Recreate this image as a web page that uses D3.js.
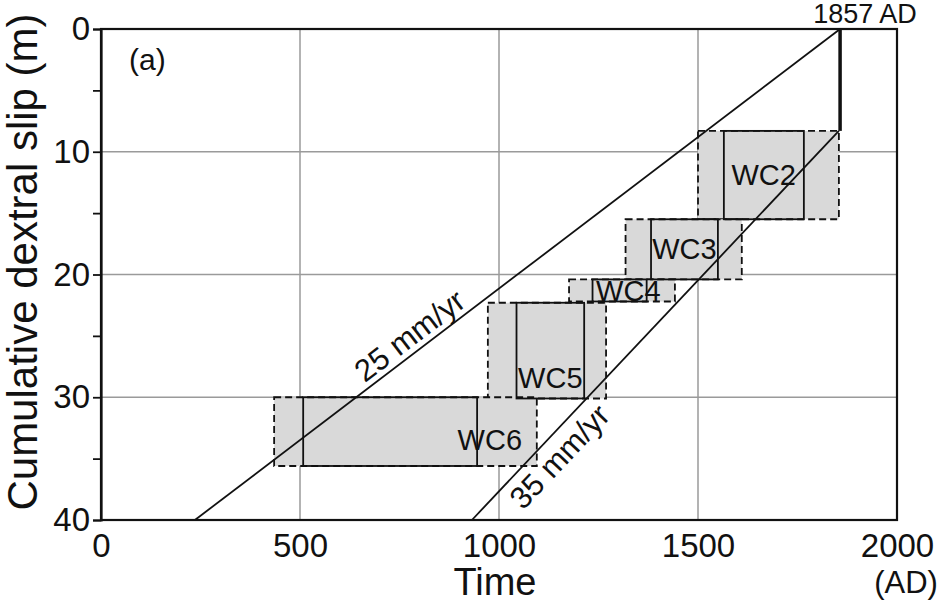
<!DOCTYPE html>
<html>
<head>
<meta charset="utf-8">
<script src="https://cdn.jsdelivr.net/npm/d3@7"></script>
<style>
  html, body { margin: 0; padding: 0; background: #fff; }
  svg { display: block; font-family: "Liberation Sans", Arial, sans-serif; }
</style>
</head>
<body>
<svg id="chart" width="945" height="603"></svg>
<script>
// ---- Data ----
const events        = ["WC2", "WC3", "WC4", "WC5", "WC6"];
const outerStart    = [1500, 1318, 1176, 972, 435];   // time (AD), dashed range
const outerEnd      = [1854, 1610, 1442, 1269, 1095];
const innerStart    = [1565, 1382, 1235, 1044, 508];  // time (AD), solid range
const innerEnd      = [1766, 1550, 1371, 1214, 945];
const slipTop       = [8.3, 15.5, 20.4, 22.3, 30.0];  // cumulative slip (m)
const slipBottom    = [15.5, 20.4, 22.2, 30.1, 35.6];
const labelTime     = [1665, 1466, 1325, 1129, 977];
const labelSlip     = [11.9, 17.9, 21.35, 28.4, 33.5];

const rateLabels    = ["25 mm/yr", "35 mm/yr"];
const rateStartTime = [1857, 1854];
const rateStartSlip = [0, 8.3];
const rateEndTime   = [236, 932];
const rateEndSlip   = [40, 40];
const rateLabelTime = [801, 1115];

const lastEventYear = 1857;
const lastEventSlip = 8.3;

const xTicks = [0, 500, 1000, 1500, 2000];
const yTicks = [0, 5, 10, 15, 20, 25, 30, 35, 40];
const gridX  = [500, 1000, 1500];
const gridY  = [10, 20, 30];

// ---- Chart ----
const svg = d3.select("#chart");
const x = d3.scaleLinear().domain([0, 2000]).range([101, 897]);
const y = d3.scaleLinear().domain([0, 40]).range([29, 520]);
const ink = "#111";

// grid
svg.append("g").selectAll("line").data(gridX).join("line")
  .attr("x1", d => x(d)).attr("x2", d => x(d))
  .attr("y1", y(0)).attr("y2", y(40))
  .attr("stroke", "#9a9a9a").attr("stroke-width", 1.5);
svg.append("g").selectAll("line").data(gridY).join("line")
  .attr("x1", x(0)).attr("x2", x(2000))
  .attr("y1", d => y(d)).attr("y2", d => y(d))
  .attr("stroke", "#9a9a9a").attr("stroke-width", 1.5);

// boxes
const idx = d3.range(events.length);
const boxes = svg.append("g");
boxes.selectAll("rect.outer").data(idx).join("rect")
  .attr("class", "outer")
  .attr("x", i => x(outerStart[i]))
  .attr("y", i => y(slipTop[i]))
  .attr("width", i => x(outerEnd[i]) - x(outerStart[i]))
  .attr("height", i => y(slipBottom[i]) - y(slipTop[i]))
  .attr("fill", "#d9d9d9")
  .attr("stroke", ink).attr("stroke-width", 1.8)
  .attr("stroke-dasharray", "7,4");
boxes.selectAll("rect.inner").data(idx).join("rect")
  .attr("class", "inner")
  .attr("x", i => x(innerStart[i]))
  .attr("y", i => y(slipTop[i]))
  .attr("width", i => x(innerEnd[i]) - x(innerStart[i]))
  .attr("height", i => y(slipBottom[i]) - y(slipTop[i]))
  .attr("fill", "none")
  .attr("stroke", ink).attr("stroke-width", 1.8);

// rate lines
const ridx = d3.range(rateLabels.length);
svg.append("g").selectAll("line").data(ridx).join("line")
  .attr("x1", i => x(rateStartTime[i])).attr("y1", i => y(rateStartSlip[i]))
  .attr("x2", i => x(rateEndTime[i])).attr("y2", i => y(rateEndSlip[i]))
  .attr("stroke", ink).attr("stroke-width", 1.8);

// 1857 slip
svg.append("line")
  .attr("x1", x(lastEventYear)).attr("x2", x(lastEventYear))
  .attr("y1", y(0)).attr("y2", y(lastEventSlip))
  .attr("stroke", ink).attr("stroke-width", 3.5);

// event labels
svg.append("g").selectAll("text").data(idx).join("text")
  .attr("x", i => x(labelTime[i])).attr("y", i => y(labelSlip[i]))
  .attr("text-anchor", "middle").attr("dominant-baseline", "central")
  .attr("font-size", 29).attr("fill", ink)
  .text(i => events[i]);

// rate labels
ridx.forEach(i => {
  const x1 = x(rateStartTime[i]), y1 = y(rateStartSlip[i]);
  const x2 = x(rateEndTime[i]), y2 = y(rateEndSlip[i]);
  const ang = Math.atan2(y1 - y2, x1 - x2) * 180 / Math.PI;
  const t = rateLabelTime[i];
  const s = rateStartSlip[i] + (rateStartTime[i] - t) * (rateEndSlip[i] - rateStartSlip[i]) / (rateStartTime[i] - rateEndTime[i]);
  svg.append("text")
    .attr("transform", `translate(${x(t)},${y(s)}) rotate(${ang})`)
    .attr("text-anchor", "middle")
    .attr("dy", i === 0 ? -6 : 31)
    .attr("font-size", 31).attr("fill", ink)
    .text(rateLabels[i]);
});

// frame
svg.append("rect")
  .attr("x", x(0)).attr("y", y(0))
  .attr("width", x(2000) - x(0)).attr("height", y(40) - y(0))
  .attr("fill", "none").attr("stroke", ink).attr("stroke-width", 2.2);

// axes
const yAxis = svg.append("g")
  .attr("transform", `translate(${x(0)},0)`)
  .call(d3.axisLeft(y).tickValues(yTicks).tickSize(8).tickPadding(3)
    .tickFormat(d => d % 10 === 0 ? d : ""));
yAxis.select(".domain").attr("stroke-width", 2.2).attr("stroke", ink);
yAxis.selectAll(".tick line").attr("stroke-width", 1.8).attr("stroke", ink);
yAxis.selectAll("text").attr("font-size", 33).attr("font-family", "Liberation Sans, Arial, sans-serif").attr("fill", ink);

const xAxis = svg.append("g")
  .attr("transform", `translate(0,${y(40)})`)
  .call(d3.axisBottom(x).tickValues(xTicks).tickSize(0).tickPadding(14)
    .tickFormat(d3.format("d")));
xAxis.select(".domain").remove();
xAxis.selectAll("text").attr("font-size", 33).attr("font-family", "Liberation Sans, Arial, sans-serif").attr("fill", ink);

// titles
svg.append("text").attr("x", 495).attr("y", 595)
  .attr("text-anchor", "middle").attr("font-size", 38).attr("fill", ink)
  .text("Time");
svg.append("text").attr("x", 906).attr("y", 593)
  .attr("text-anchor", "middle").attr("font-size", 31).attr("fill", ink)
  .text("(AD)");
svg.append("text")
  .attr("transform", `translate(37,262) rotate(-90)`)
  .attr("text-anchor", "middle").attr("font-size", 42).attr("fill", ink)
  .text("Cumulative dextral slip (m)");
svg.append("text").attr("x", 129).attr("y", 70)
  .attr("font-size", 30).attr("fill", ink).text("(a)");
svg.append("text").attr("x", x(lastEventYear) + 25).attr("y", 23)
  .attr("text-anchor", "middle").attr("font-size", 27).attr("fill", ink)
  .text(lastEventYear + " AD");
</script>
</body>
</html>
